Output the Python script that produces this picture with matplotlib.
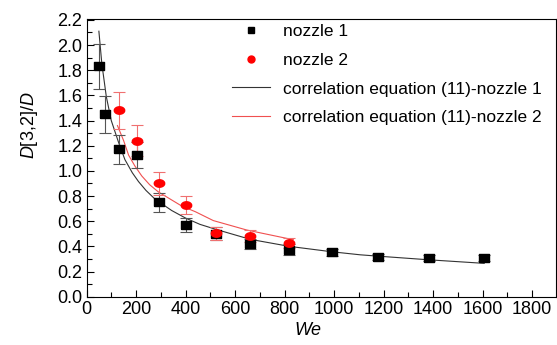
import numpy as np
import matplotlib
matplotlib.use("Agg")
import matplotlib.pyplot as plt
from matplotlib.lines import Line2D

# measured droplet size data
we_n1 = [50, 75, 130, 204, 293, 401, 523, 661, 817, 991, 1179, 1384, 1606]
d_n1 = [1.83, 1.45, 1.17, 1.125, 0.75, 0.57, 0.50, 0.42, 0.375, 0.352, 0.317, 0.31, 0.31]
err_n1 = [0.18, 0.145, 0.115, 0.105, 0.075, 0.055, 0.05, 0.04, 0.04, 0.03, 0.025, 0.025, 0.025]

we_n2 = [130, 204, 293, 401, 523, 661, 819]
d_n2 = [1.48, 1.24, 0.90, 0.728, 0.503, 0.482, 0.429]
err_n2 = [0.15, 0.125, 0.09, 0.07, 0.05, 0.045, 0.04]

# correlation curves
we_c1 = [50, 62, 80, 100, 128, 155, 185, 210, 240, 277, 344, 400, 458, 523, 661, 819, 991, 1105, 1179, 1384, 1606]
d_c1 = [2.11, 1.85, 1.59, 1.40, 1.235, 1.09, 0.985, 0.915, 0.845, 0.775, 0.685, 0.625, 0.575, 0.535, 0.456, 0.40,
        0.357, 0.333, 0.322, 0.293, 0.265]
we_c2 = [125, 150, 170, 195, 223, 255, 290, 385, 440, 512, 647, 810, 835]
d_c2 = [1.36, 1.24, 1.125, 1.04, 0.96, 0.89, 0.833, 0.72, 0.675, 0.605, 0.53, 0.463, 0.455]

labels = ["nozzle 1", "nozzle 2",
          "correlation equation (11)-nozzle 1",
          "correlation equation (11)-nozzle 2"]

plt.rcParams["font.family"] = ["Liberation Sans", "DejaVu Sans"]
plt.rcParams["mathtext.fontset"] = "custom"
plt.rcParams["mathtext.rm"] = "Liberation Sans"
plt.rcParams["mathtext.it"] = "Liberation Sans:italic"

# wide, flat markers like the original (stretched image)
rect = [(-1.4, -1), (1.4, -1), (1.4, 1), (-1.4, 1), (-1.4, -1)]
th = np.linspace(0, 2 * np.pi, 40)
ell = list(zip(1.4 * np.cos(th), np.sin(th)))

fig = plt.figure(figsize=(5.57, 3.45), dpi=100)
ax = fig.add_axes([0.1553, 0.14, 0.8425, 0.806])

ax.plot(we_c1, d_c1, color="#333333", lw=0.8, zorder=2)
ax.plot(we_c2, d_c2, color="#f05050", lw=0.8, zorder=2)
ax.errorbar(we_n1, d_n1, yerr=err_n1, fmt="none", ecolor="#555555",
            elinewidth=0.8, capsize=4, capthick=0.8, zorder=3)
ax.errorbar(we_n2, d_n2, yerr=err_n2, fmt="none", ecolor="#f07070",
            elinewidth=0.8, capsize=4, capthick=0.8, zorder=3)
ax.plot(we_n1, d_n1, ls="none", marker=rect, ms=7.5, color="black", zorder=4)
ax.plot(we_n2, d_n2, ls="none", marker=ell, ms=7.5, color="#ff0000", zorder=5)

ax.set_xlim(0, 1895)
ax.set_ylim(0, 2.21)
ax.set_xticks(np.arange(0, 1801, 200))
ax.set_xticks(np.arange(100, 1900, 200), minor=True)
ax.set_yticks(np.arange(0, 2.21, 0.2))
ax.set_yticks(np.arange(0.1, 2.2, 0.2), minor=True)
ax.yaxis.set_major_formatter(matplotlib.ticker.FormatStrFormatter("%.1f"))
ax.tick_params(which="both", direction="in", top=False, right=False,
               labelsize=13, width=0.8, pad=3)
ax.tick_params(which="major", length=5)
ax.tick_params(which="minor", length=3.5)
for s in ax.spines.values():
    s.set_linewidth(0.8)

ax.set_xlabel(r"$We$", fontsize=13)
ax.set_ylabel(r"$D$[3,2]/$D$", fontsize=13)
ax.xaxis.set_label_coords(0.472, -0.09)
ax.yaxis.set_label_coords(-0.1, 0.617)

handles = [
    Line2D([], [], ls="none", marker="s", ms=5, color="black"),
    Line2D([], [], ls="none", marker="o", ms=5, color="#ff0000"),
    Line2D([], [], color="#333333", lw=0.8),
    Line2D([], [], color="#f05050", lw=0.8),
]
fig.legend(handles, labels, loc="upper left", bbox_to_anchor=(232 / 557, 1 - 24 / 345),
           frameon=False, fontsize=12.5, borderpad=0, borderaxespad=0,
           handlelength=2.2, handletextpad=0.75, labelspacing=0.78)

fig.savefig("out.png", dpi=100)
